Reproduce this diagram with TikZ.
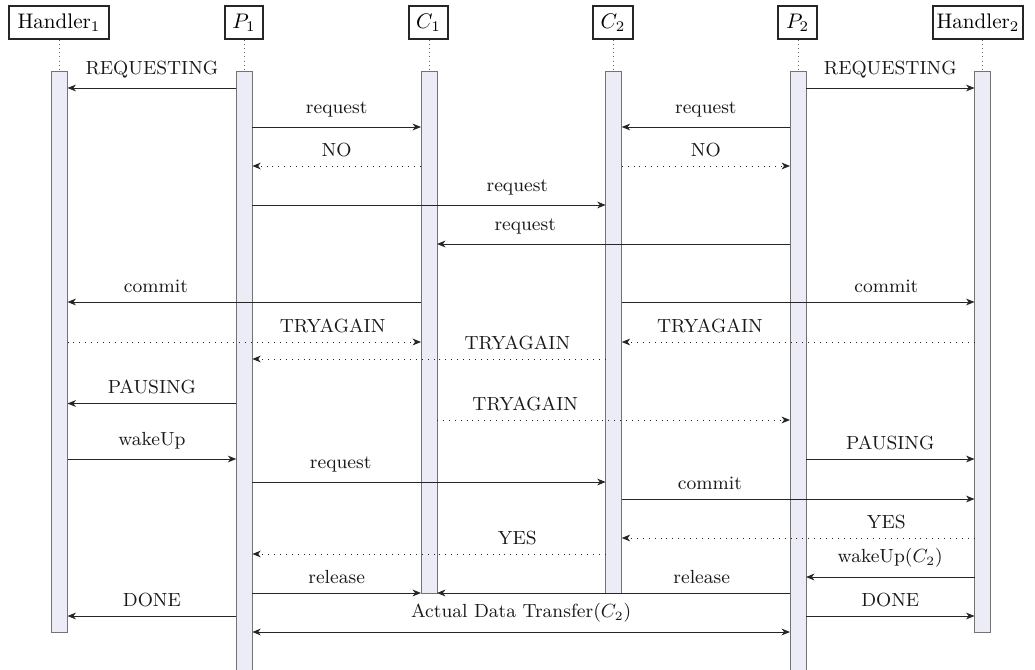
\documentclass[tikz,border=0pt]{standalone}
\usetikzlibrary{arrows.meta,fit}
\definecolor{barfill}{RGB}{236,236,247}
\begin{document}
\begin{tikzpicture}[x=0.4739pt,y=-0.4739pt,
  head/.style={draw=black!85, line width=0.5pt, inner sep=0pt, minimum height=15.64pt, font=\normalsize},
  actbar/.style={draw=black!55, fill=barfill, line width=0.45pt, inner sep=0pt, outer sep=0pt},
  life/.style={black!60, line width=0.4pt, dash pattern=on 0.4pt off 1.6pt},
  tip/.tip={Stealth[length=4pt,width=3.2pt,inset=1.2pt]},
  msg/.style={draw=black!85, line width=0.45pt, -tip},
  reply/.style={msg, dash pattern=on 0.4pt off 2.4pt},
  both/.style={msg, tip-tip},
  lbl/.style={above, inner sep=0pt, yshift=4.2pt, font=\small, text=black!90},
]
\useasboundingbox (0,0) rectangle (1035,670);

% instance headers
\node[head, minimum width=47.39pt] (H1) at (59,22.5)   {Handler$_1$};
\node[head, minimum width=18.0pt]  (P1) at (244,22.5)  {$P_1$};
\node[head, minimum width=18.48pt] (C1) at (428.5,22.5) {$C_1$};
\node[head, minimum width=18.96pt] (C2) at (613,22.5)  {$C_2$};
\node[head, minimum width=18.48pt] (P2) at (797.5,22.5) {$P_2$};
\node[head, minimum width=42.65pt] (H2) at (978,22.5)  {Handler$_2$};

% activation bars
\node[actbar, fit={(51.5,71) (67.5,632)}]   (H1bar) {};
\node[actbar, fit={(236.3,71) (252.3,690)}] (P1bar) {};
\node[actbar, fit={(421,71) (437,593)}]     (C1bar) {};
\node[actbar, fit={(605.7,71) (621.7,593)}] (C2bar) {};
\node[actbar, fit={(790,71) (806,690)}]     (P2bar) {};
\node[actbar, fit={(974.5,71) (990.5,632)}] (H2bar) {};

% lifelines between headers and bars
\foreach \n in {H1,P1,C1,C2,P2,H2}
  \draw[life] (\n bar.north |- \n.south) -- (\n bar.north);

% messages
\draw[msg] (P1bar.west |- 0,88) -- node[lbl]{REQUESTING} (H1bar.east |- 0,88);
\draw[msg] (P2bar.east |- 0,88) -- node[lbl]{REQUESTING} (H2bar.west |- 0,88);

\draw[msg] (P1bar.east |- 0,127) -- node[lbl]{request} (C1bar.west |- 0,127);
\draw[msg] (P2bar.west |- 0,127) -- node[lbl]{request} (C2bar.east |- 0,127);

\draw[reply] (C1bar.west |- 0,166) -- node[lbl]{NO} (P1bar.east |- 0,166);
\draw[reply] (C2bar.east |- 0,166) -- node[lbl]{NO} (P2bar.west |- 0,166);

\draw[msg] (P1bar.east |- 0,205) -- node[lbl,pos=.75]{request} (C2bar.west |- 0,205);
\draw[msg] (P2bar.west |- 0,244) -- node[lbl,pos=.75]{request} (C1bar.east |- 0,244);

\draw[msg] (C1bar.west |- 0,302) -- node[lbl,pos=.75]{commit} (H1bar.east |- 0,302);
\draw[msg] (C2bar.east |- 0,302) -- node[lbl,pos=.75]{commit} (H2bar.west |- 0,302);

\draw[reply] (H1bar.east |- 0,342) -- node[lbl,pos=.75]{TRYAGAIN} (C1bar.west |- 0,342);
\draw[reply] (H2bar.west |- 0,342) -- node[lbl,pos=.75]{TRYAGAIN} (C2bar.east |- 0,342);
\draw[reply] (C2bar.west |- 0,359) -- node[lbl,pos=.25]{TRYAGAIN} (P1bar.east |- 0,359);

\draw[msg] (P1bar.west |- 0,403.5) -- node[lbl]{PAUSING} (H1bar.east |- 0,403.5);
\draw[reply] (C1bar.east |- 0,420) -- node[lbl,pos=.25]{TRYAGAIN} (P2bar.west |- 0,420);

\draw[msg] (H1bar.east |- 0,459) -- node[lbl]{wakeUp} (P1bar.west |- 0,459);
\draw[msg] (P2bar.east |- 0,459) -- node[lbl]{PAUSING} (H2bar.west |- 0,459);

\draw[msg] (P1bar.east |- 0,482) -- node[lbl,pos=.25]{request} (C2bar.west |- 0,482);
\draw[msg] (C2bar.east |- 0,499) -- node[lbl,pos=.25]{commit} (H2bar.west |- 0,499);

\draw[reply] (H2bar.west |- 0,538) -- node[lbl,pos=.25]{YES} (C2bar.east |- 0,538);
\draw[reply] (C2bar.west |- 0,554) -- node[lbl,pos=.25]{YES} (P1bar.east |- 0,554);

\draw[msg] (H2bar.west |- 0,577) -- node[lbl]{wakeUp$(C_2)$} (P2bar.east |- 0,577);

\draw[msg] (P1bar.east |- 0,593) -- node[lbl]{release} (C1bar.west |- 0,593);
\draw[msg] (P2bar.west |- 0,593) -- node[lbl,pos=.25]{release} (C1bar.east |- 0,593);

\draw[msg] (P1bar.west |- 0,616) -- node[lbl]{DONE} (H1bar.east |- 0,616);
\draw[msg] (P2bar.east |- 0,616) -- node[lbl]{DONE} (H2bar.west |- 0,616);

\draw[both] (P1bar.east |- 0,632) -- node[lbl]{Actual Data Transfer$(C_2)$} (P2bar.west |- 0,632);
\end{tikzpicture}
\end{document}
